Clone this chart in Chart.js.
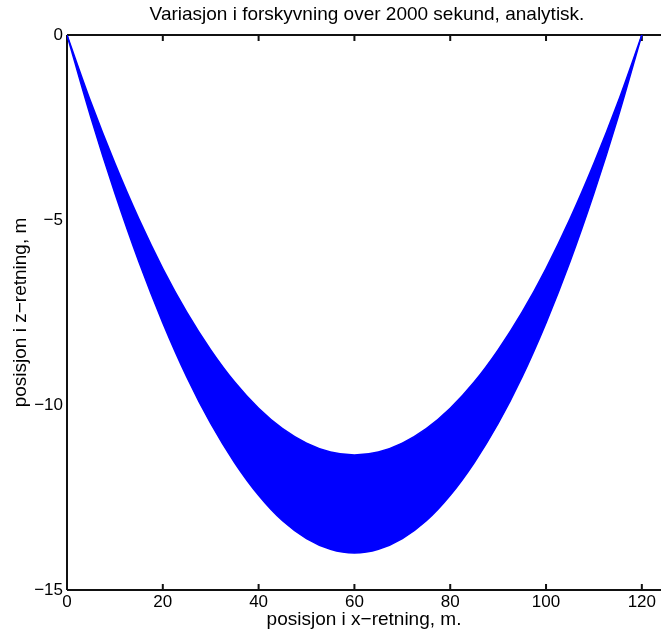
<!DOCTYPE html>
<html>
<head>
<meta charset="utf-8">
<script src="https://cdn.jsdelivr.net/npm/chart.js@4/dist/chart.umd.min.js"></script>
<style>
html,body{margin:0;padding:0;background:#fff;}
canvas{display:block;}
</style>
</head>
<body>
<canvas id="c" width="661" height="639"></canvas>
<script>
// Data
const xPositions = [0,5,10,15,20,25,30,35,40,45,50,55,60,65,70,75,80,85,90,95,100,105,110,115,120];
const upperEdge  = [0,-1.82,-3.47,-4.97,-6.31,-7.49,-8.51,-9.38,-10.09,-10.64,-11.03,-11.27,-11.35,-11.27,-11.03,-10.64,-10.09,-9.38,-8.51,-7.49,-6.31,-4.97,-3.47,-1.82,0];
const lowerEdge  = [0,-2.24,-4.28,-6.13,-7.78,-9.24,-10.5,-11.56,-12.44,-13.13,-13.61,-13.90,-14.0,-13.90,-13.61,-13.13,-12.44,-11.56,-10.5,-9.24,-7.78,-6.13,-4.28,-2.24,0];
const xTicks = [0,20,40,60,80,100,120];
const yTicks = [0,-5,-10,-15];

const FONT = "'Liberation Sans', Arial, Helvetica, sans-serif";
const fmt = v => (v < 0 ? "\u2212" + Math.abs(v) : String(v));

const axesPlugin = {
  id: 'matlabAxes',
  beforeDatasetsDraw(chart) {
    const {ctx, chartArea: a, scales} = chart;
    ctx.save();
    ctx.strokeStyle = '#111';
    ctx.lineWidth = 2;
    ctx.beginPath();
    ctx.moveTo(a.left, a.bottom); ctx.lineTo(a.left, a.top);
    ctx.moveTo(a.left, a.top); ctx.lineTo(chart.width, a.top);
    ctx.moveTo(a.left, a.bottom); ctx.lineTo(chart.width, a.bottom);
    const tl = 6;
    xTicks.forEach(v => {
      const px = scales.x.getPixelForValue(v);
      ctx.moveTo(px, a.top); ctx.lineTo(px, a.top + tl);
      ctx.moveTo(px, a.bottom); ctx.lineTo(px, a.bottom - tl);
    });
    ctx.stroke();
    ctx.restore();
  },
  afterDraw(chart) {
    const {ctx, chartArea: a} = chart;
    ctx.save();
    ctx.fillStyle = '#000';
    ctx.font = '19px ' + FONT;
    ctx.textAlign = 'center';
    ctx.textBaseline = 'middle';
    ctx.fillText('Variasjon i forskyvning over 2000 sekund, analytisk.', (a.left + chart.width) / 2 + 3, 15);
    ctx.fillText('posisjon i x\u2212retning, m.', (a.left + chart.width) / 2, 620);
    ctx.translate(21, (a.top + a.bottom) / 2);
    ctx.rotate(-Math.PI / 2);
    ctx.fillText('posisjon i z\u2212retning, m', 0, 0);
    ctx.restore();
  }
};

const toPts = arr => xPositions.map((x, i) => ({x, y: arr[i]}));

new Chart(document.getElementById('c'), {
  type: 'line',
  data: {
    datasets: [
      {label: 'upper', data: toPts(upperEdge), borderColor: '#0000ff', backgroundColor: '#0000ff', borderWidth: 1.5, pointRadius: 0, fill: false, cubicInterpolationMode: 'monotone'},
      {label: 'lower', data: toPts(lowerEdge), borderColor: '#0000ff', backgroundColor: '#0000ff', borderWidth: 1.5, pointRadius: 0, fill: '-1', cubicInterpolationMode: 'monotone'}
    ]
  },
  options: {
    responsive: false,
    animation: false,
    devicePixelRatio: 1,
    layout: {padding: {top: 35, right: 0, left: 0, bottom: 0}},
    plugins: {legend: {display: false}, title: {display: false}, tooltip: {enabled: false}},
    scales: {
      x: {
        type: 'linear', min: 0, max: 124,
        grid: {display: false, drawTicks: false}, border: {display: false},
        afterBuildTicks: s => { s.ticks = xTicks.map(v => ({value: v})); },
        afterFit: s => { s.height = 49; },
        ticks: {color: '#000', font: {family: FONT, size: 17}, padding: 2, maxRotation: 0, callback: v => fmt(v)}
      },
      y: {
        type: 'linear', min: -15, max: 0,
        grid: {display: false, drawTicks: false}, border: {display: false},
        afterBuildTicks: s => { s.ticks = yTicks.map(v => ({value: v})); },
        afterFit: s => { s.width = 67; },
        ticks: {color: '#000', font: {family: FONT, size: 17}, padding: 4, callback: v => fmt(v)}
      }
    }
  },
  plugins: [axesPlugin]
});
</script>
</body>
</html>
